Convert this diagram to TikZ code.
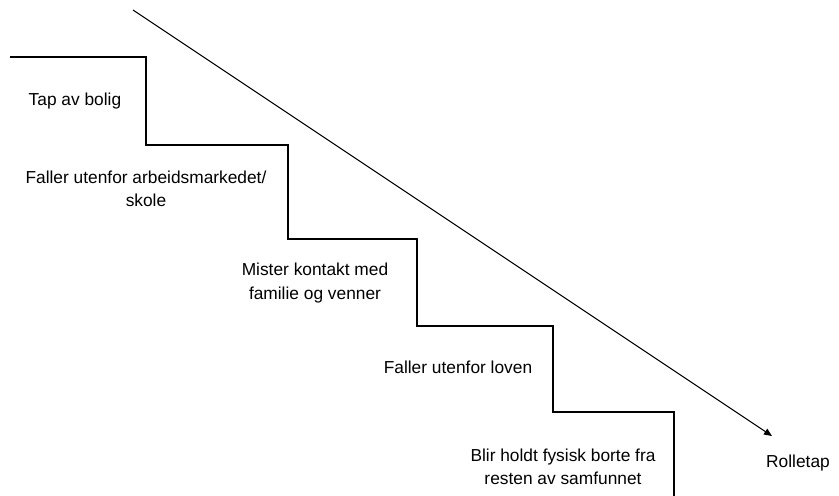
\documentclass[tikz,border=0pt]{standalone}
\usepackage{fontspec}
\setmainfont{Liberation Sans}
\usetikzlibrary{arrows.meta}
\begin{document}
\begin{tikzpicture}[x=0.75pt,y=-0.75pt,
  lbl/.style={font=\fontsize{13pt}{17.5pt}\selectfont, align=center, inner sep=0pt},
  stair/.style={line width=1.1pt, black},
  trend/.style={line width=0.75pt, black, -{Triangle[length=6pt,width=5pt]}}]
\useasboundingbox (0,0) rectangle (839,496);
\draw[stair] (10,57) -- (146,57) -- (146,145) -- (288,145) -- (288,239) -- (417,239)
  -- (417,326) -- (553,326) -- (553,412) -- (674,412) -- (674,496);
\coordinate (s) at (133,10);
\coordinate (e) at (772,436);
\draw[trend] (s) -- (e);
\node[lbl] (t1) at (75,101) {Tap av bolig};
\node[lbl] (t2) at (146,189) {Faller utenfor arbeidsmarkedet/\\skole};
\node[lbl] (t3) at (315,283) {Mister kontakt med\\familie og venner};
\node[lbl] (t4) at (458,367) {Faller utenfor loven};
\node[lbl] (t5) at (563,467) {Blir holdt fysisk borte fra\\resten av samfunnet};
\node[lbl] (t6) at (798,463) {Rolletap};
\end{tikzpicture}
\end{document}
